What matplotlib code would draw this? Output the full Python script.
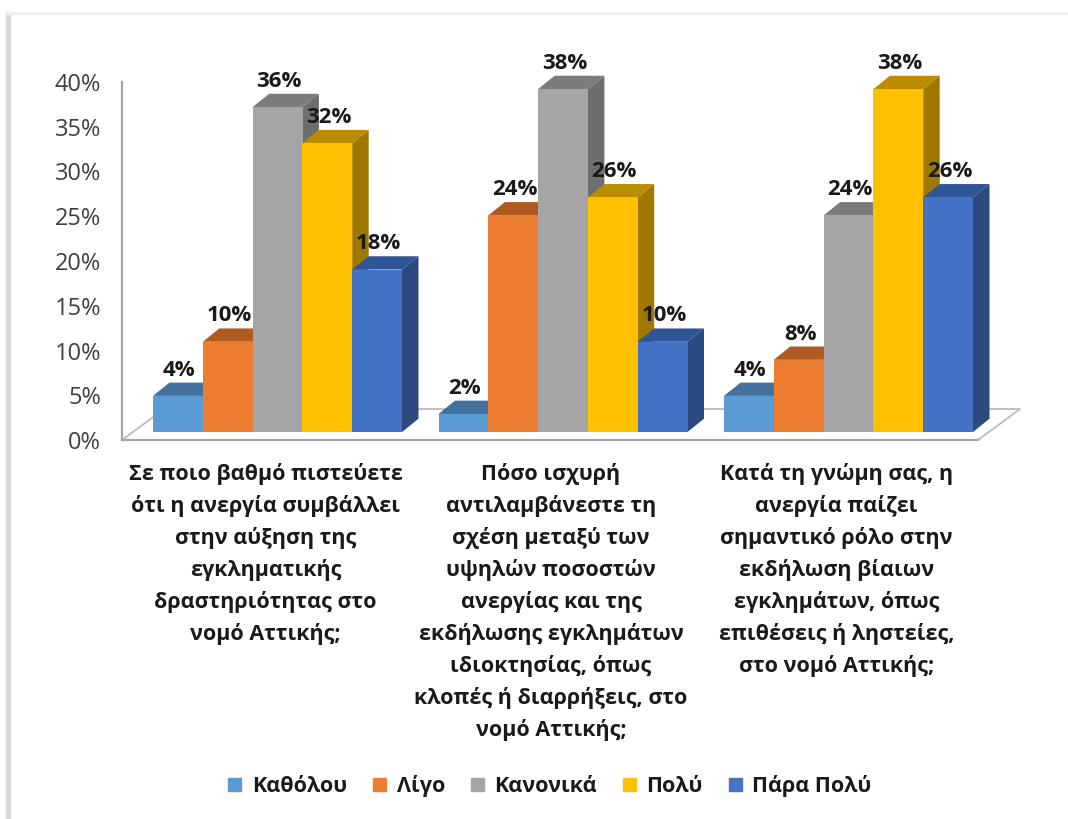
import matplotlib
matplotlib.use("Agg")
import matplotlib.pyplot as plt
import numpy as np
from matplotlib.patches import Patch, Polygon, Rectangle

plt.rcParams['font.family'] = ['Open Sans', 'Noto Sans', 'DejaVu Sans']

series_names = ["Καθόλου", "Λίγο", "Κανονικά", "Πολύ", "Πάρα Πολύ"]
katholou = [4, 2, 4]
ligo = [10, 24, 8]
kanonika = [36, 38, 24]
poly = [32, 26, 38]
para_poly = [18, 10, 26]
questions = [
    "Σε ποιο βαθμό πιστεύετε\nότι η ανεργία συμβάλλει\nστην αύξηση της\nεγκληματικής\nδραστηριότητας στο\nνομό Αττικής;",
    "Πόσο ισχυρή\nαντιλαμβάνεστε τη\nσχέση μεταξύ των\nυψηλών ποσοστών\nανεργίας και της\nεκδήλωσης εγκλημάτων\nιδιοκτησίας, όπως\nκλοπές ή διαρρήξεις, στο\nνομό Αττικής;",
    "Κατά τη γνώμη σας, η\nανεργία παίζει\nσημαντικό ρόλο στην\nεκδήλωση βίαιων\nεγκλημάτων, όπως\nεπιθέσεις ή ληστείες,\nστο νομό Αττικής;",
]
y_ticks = [0, 5, 10, 15, 20, 25, 30, 35, 40]

front_colors = ["#5b9bd5", "#ed7d31", "#a5a5a5", "#ffc000", "#4472c4"]
top_colors = ["#41719c", "#ae5a21", "#7c7c7c", "#bc8c00", "#2f5597"]
side_colors = ["#3a6690", "#a0521e", "#6e6e6e", "#a07800", "#2c4a80"]

W, H = 1068, 819
fig = plt.figure(figsize=(W / 100, H / 100), dpi=100)

# page frame of the pasted picture
fig.add_artist(Rectangle((6 / W, 0), 4 / W, 1 - 12 / H, transform=fig.transFigure, color="#d9d9d9"))
fig.add_artist(Rectangle((6 / W, 1 - 14 / H), 1 - 6 / W, 2 / H, transform=fig.transFigure, color="#eeeeee"))

def px_axes(left, right, top, bottom):
    return fig.add_axes([left / W, 1 - bottom / H, (right - left) / W, (bottom - top) / H])

# wall and floor, with the value axis
wall = px_axes(122, 978, 82, 440)
wall.set_xlim(122, 978)
wall.set_ylim(0, 40)
wall.set_xticks([])
wall.set_yticks(y_ticks, [f"{v}%" for v in y_ticks])
wall.tick_params(axis="y", length=0, pad=15, labelsize=17, labelcolor="#404040")
for s in ["top", "right"]:
    wall.spines[s].set_visible(False)
for s in ["left", "bottom"]:
    wall.spines[s].set_color("#a6a6a6")
    wall.spines[s].set_linewidth(1.6)
floor_y = 31 * 40 / 358
wall.plot([122, 164, 1020, 978], [0, floor_y, floor_y, 0], color="#bfbfbf", lw=1.4, clip_on=False)

# bars on their own axes, one unit = one question
pitch = 285.5
ax = px_axes(122, 978, 71, 432)
ax.set_xlim((122 - 277.5) / pitch, (978 - 277.5) / pitch)
ax.set_ylim(0, 40)
ax.axis("off")
ax.patch.set_alpha(0)

bar_w = 49.8 / pitch
dx = 16.5 / pitch
dy = 13.3 * 40 / 361
values = np.array([katholou, ligo, kanonika, poly, para_poly])

for g in range(len(questions)):
    for i in range(len(series_names)):
        x0 = g + (i - 2.5) * bar_w
        x1 = x0 + bar_w
        v = values[i, g]
        ax.add_patch(Polygon([(x1, 0), (x1 + dx, dy), (x1 + dx, v + dy), (x1, v)], color=side_colors[i], clip_on=False, lw=0))
        ax.add_patch(Polygon([(x0, v), (x0 + dx, v + dy), (x1 + dx, v + dy), (x1, v)], color=top_colors[i], clip_on=False, lw=0))
        ax.add_patch(Rectangle((x0, 0), bar_w, v, color=front_colors[i], clip_on=False, lw=0))

for g in range(len(questions)):
    for i in range(len(series_names)):
        xc = g + (i - 2) * bar_w
        v = values[i, g]
        ax.annotate(f"{v}%", (xc, v + dy), xytext=(1, 9), textcoords="offset points", ha="center", va="center",
                    fontsize=16, fontweight="bold", color="#1a1a1a", annotation_clip=False, zorder=5)
    ax.text(g - 12 / pitch, -3.4, questions[g], ha="center", va="top", fontsize=15.5, fontweight="bold", color="#1a1a1a",
            linespacing=1.59, clip_on=False)

handles = [Patch(facecolor=c, edgecolor=c, label=n) for c, n in zip(front_colors, series_names)]
fig.legend(handles=handles, loc="center", bbox_to_anchor=(550 / W, 1 - 786 / H), ncol=5, frameon=False,
           handlelength=0.6, handleheight=0.6, handletextpad=0.5, columnspacing=1.2,
           prop={"size": 15.5, "weight": "bold"}, labelcolor="#1a1a1a")

fig.savefig("out.png", dpi=100)
